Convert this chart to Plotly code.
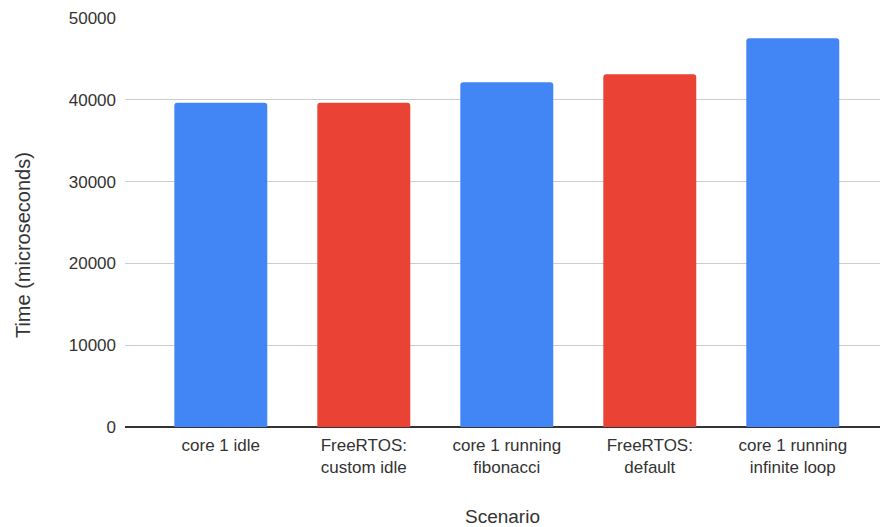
import plotly.graph_objects as go

categories = ["core 1 idle", "FreeRTOS:<br>custom idle", "core 1 running<br>fibonacci",
              "FreeRTOS:<br>default", "core 1 running<br>infinite loop"]
times_us = [39650, 39650, 42150, 43120, 47530]
y_ticks = [0, 10000, 20000, 30000, 40000, 50000]

BLUE = "#4285F4"
RED = "#EA4335"
bar_colors = [BLUE, RED, BLUE, RED, BLUE]

FONT = "Liberation Sans, Arial, sans-serif"

fig = go.Figure(go.Bar(
    x=list(range(len(categories))),
    y=times_us,
    marker=dict(color=bar_colors, line=dict(width=0), cornerradius=3),
    width=0.65,
))

fig.update_layout(
    width=881, height=527,
    margin=dict(l=125, r=1, t=18, b=100),
    paper_bgcolor="white", plot_bgcolor="white",
    font=dict(family=FONT, size=17, color="#333333"),
    showlegend=False,
    xaxis=dict(
        tickmode="array", tickvals=list(range(len(categories))), ticktext=categories,
        range=[-0.67, 4.61], showgrid=False, zeroline=False,
        showline=False, ticks="", ticklabelstandoff=6,
        title=dict(text="Scenario", standoff=34, font=dict(size=19)),
    ),
    yaxis=dict(
        range=[0, 50000], tickmode="array", tickvals=y_ticks,
        ticktext=[str(v) for v in y_ticks],
        showgrid=True, gridcolor="#cccccc", gridwidth=1,
        zeroline=True, zerolinecolor="#333333", zerolinewidth=1.5,
        ticks="", ticklabelstandoff=8,
    ),
    annotations=[dict(
        text="Time (microseconds)", textangle=-90, showarrow=False,
        xref="paper", yref="paper", x=-0.135, y=0.445,
        xanchor="center", yanchor="middle", font=dict(size=20, color="#333333"),
    )],
)

fig.write_html("out.html")
